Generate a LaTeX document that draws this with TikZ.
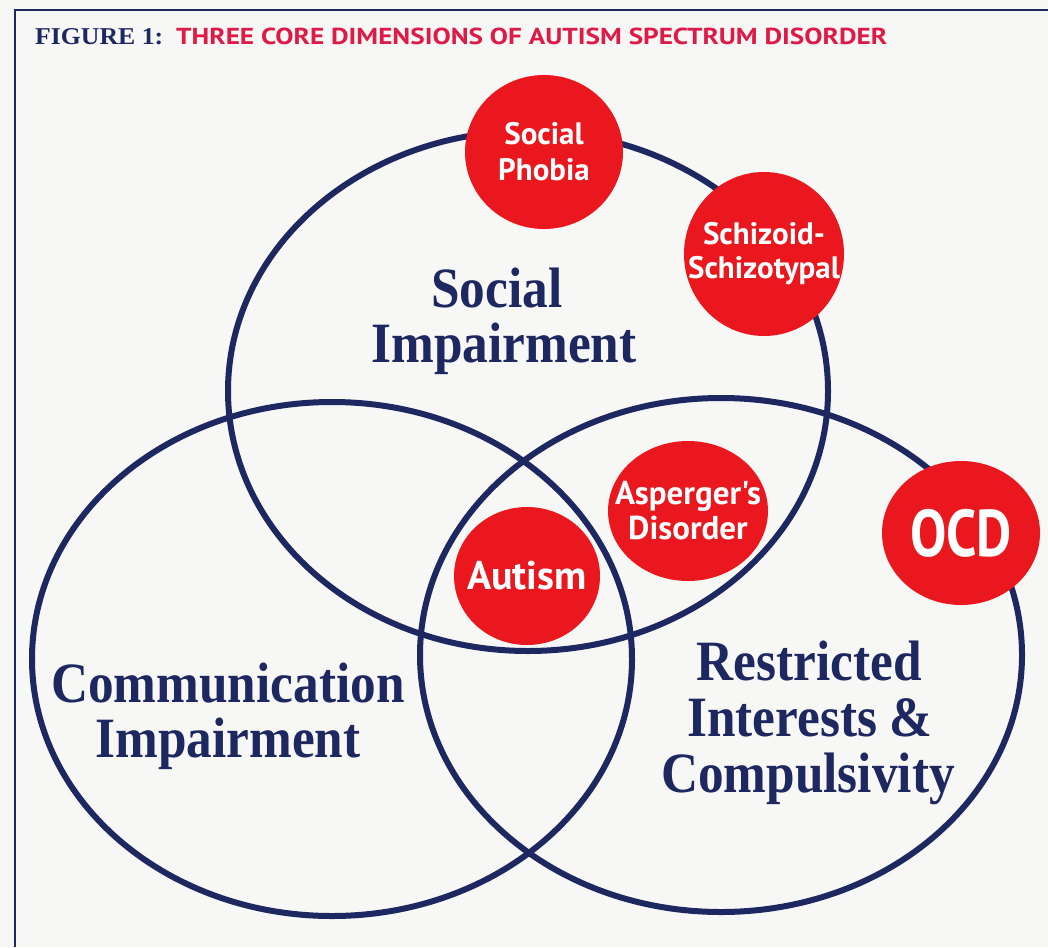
\documentclass[tikz,border=0pt]{standalone}
\usepackage{fontspec}
\usepackage{graphicx}
\usetikzlibrary{shapes.geometric}
\setmainfont{Liberation Serif}
\newfontfamily\labserif{Liberation Serif}[FakeStretch=0.9]
\newfontfamily\titleserif{Liberation Serif}
\newfontfamily\circsans{PT Sans}
\definecolor{navy}{RGB}{30,40,96}
\definecolor{redc}{RGB}{234,24,30}
\definecolor{titlered}{RGB}{222,26,70}
\definecolor{paper}{RGB}{247,247,245}
\tikzset{
  dimring/.style={draw=navy, line width=6pt, ellipse, inner sep=0pt},
  reddot/.style={fill=redc, ellipse, inner sep=0pt},
  dotlabel/.style={text=white, align=center, inner sep=0pt},
  biglabel/.style={text=navy, anchor=base, inner sep=0pt, font=\labserif\bfseries\fontsize{57}{60}\selectfont},
  framestyle/.style={draw=navy, line width=2.5pt}
}
\begin{document}
\begin{tikzpicture}[x=1pt,y=-1pt]
\fill[paper] (0,0) rectangle (1048,947);
\useasboundingbox (0,0) rectangle (1048,947);
% frame
\coordinate (fbl) at (15,947);
\coordinate (ftl) at (15,10);
\coordinate (ftr) at (1048,10);
\draw[framestyle] (fbl) -- (ftl) -- (ftr);
% title
\node[anchor=base west, inner sep=0pt, text=navy] (figlab) at (35,45)
  {\resizebox{128pt}{16pt}{\titleserif\bfseries FIGURE 1:}};
\node[anchor=base west, inner sep=0pt, text=titlered] (figtitle) at (176,45)
  {\resizebox{711pt}{16.5pt}{\circsans\bfseries THREE CORE DIMENSIONS OF AUTISM SPECTRUM DISORDER}};
% three dimensions
\node[dimring, minimum width=600pt, minimum height=520pt] (social) at (528,391) {};
\node[dimring, minimum width=600pt, minimum height=514pt] (comm) at (332,659) {};
\node[dimring, minimum width=602pt, minimum height=514pt] (restr) at (721,655) {};
% labels of the dimensions
\node[biglabel] (socA) at (497,307) {Social};
\node[biglabel] (socB) at (504,362) {Impairment};
\node[biglabel] (comA) at (228,702) {Communication};
\node[biglabel] (comB) at (228,757) {Impairment};
\node[biglabel] (resA) at (809,680) {Restricted};
\node[biglabel] (resB) at (810,736) {Interests \&};
\node[biglabel] (resC) at (808,792) {Compulsivity};
% disorders
\node[reddot, minimum width=158pt, minimum height=154pt] (phobia) at (544,152) {};
\node[dotlabel, font=\circsans\bfseries\fontsize{31}{36}\selectfont] (phobiaT) at (phobia) {Social\\Phobia};
\node[reddot, minimum width=160pt, minimum height=164pt] (schiz) at (764,254) {};
\node[dotlabel, font=\circsans\bfseries\fontsize{31}{34}\selectfont] (schizT) at (schiz) {Schizoid-\\Schizotypal};
\node[reddot, minimum width=160pt, minimum height=140pt] (asp) at (688,511) {};
\node[dotlabel, font=\circsans\bfseries\fontsize{33}{35}\selectfont] (aspT) at (asp) {Asperger's\\Disorder};
\node[reddot, minimum width=146pt, minimum height=138pt] (autism) at (527,576) {};
\node[dotlabel, font=\circsans\bfseries\fontsize{40}{44}\selectfont] (autismT) at (autism) {Autism};
\node[reddot, minimum width=158pt, minimum height=144pt] (ocd) at (961,533) {};
\node[dotlabel, font=\circsans\bfseries\fontsize{56}{60}\selectfont] (ocdT) at (ocd) {\scalebox{0.97}[1.18]{OCD}};
\end{tikzpicture}
\end{document}
